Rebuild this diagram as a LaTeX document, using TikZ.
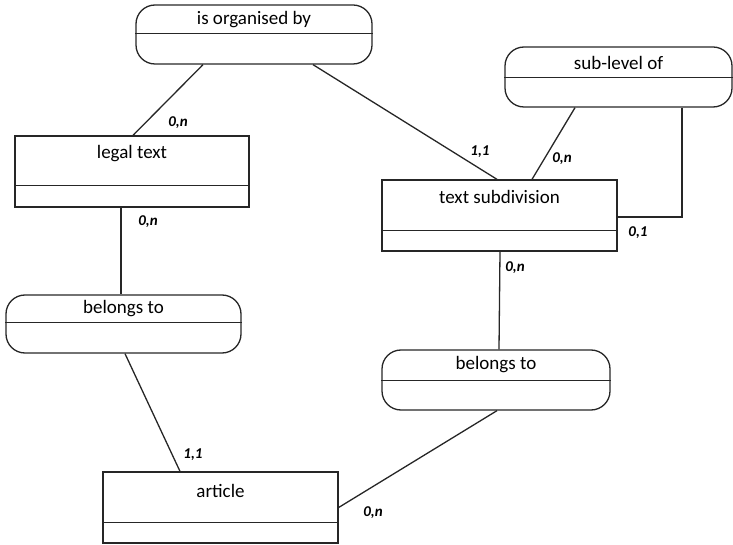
\documentclass[tikz,border=0pt]{standalone}
\usepackage{fontspec}
\setmainfont{Carlito}
\begin{document}
\begin{tikzpicture}[x=1pt,y=-1pt,
  line width=1.3pt,
  entity/.style={draw=black!85, rectangle, inner sep=0pt},
  relation/.style={draw=black!85, rectangle, rounded corners=19pt, inner sep=0pt},
  divider/.style={draw=black!85},
  title/.style={text=black, font=\fontsize{19}{21}\selectfont},
  card/.style={text=black, font=\fontsize{15}{17}\bfseries\itshape\selectfont, inner sep=0pt},
  link/.style={draw=black!85, line width=1.3pt}]
\useasboundingbox (0,0) rectangle (733,545);

% relationships (rounded boxes)
\node[relation, minimum width=236pt, minimum height=59pt] (org) at (254,34.5) {};
\node[relation, minimum width=227pt, minimum height=60pt] (sub) at (618.5,77) {};
\node[relation, minimum width=235pt, minimum height=58pt] (bel1) at (123.5,324) {};
\node[relation, minimum width=228pt, minimum height=60pt] (bel2) at (496,380) {};

% entities (plain boxes)
\node[entity, minimum width=234pt, minimum height=71pt] (legal) at (132,171.5) {};
\node[entity, minimum width=235pt, minimum height=71pt] (subdiv) at (499.5,215.5) {};
\node[entity, minimum width=235pt, minimum height=71pt] (art) at (220.5,507.5) {};

% compartment dividers
\draw[divider] ([yshift=-29.5pt]org.north west) -- ([yshift=-29.5pt]org.north east);
\draw[divider] ([yshift=-31pt]sub.north west) -- ([yshift=-31pt]sub.north east);
\draw[divider] ([yshift=-28pt]bel1.north west) -- ([yshift=-28pt]bel1.north east);
\draw[divider] ([yshift=-31pt]bel2.north west) -- ([yshift=-31pt]bel2.north east);
\draw[divider] ([yshift=-50pt]legal.north west) -- ([yshift=-50pt]legal.north east);
\draw[divider] ([yshift=-51pt]subdiv.north west) -- ([yshift=-51pt]subdiv.north east);
\draw[divider] ([yshift=-51pt]art.north west) -- ([yshift=-51pt]art.north east);

% names
\node[title] (torg) at ([yshift=-15pt]org.north) {is organised by};
\node[title] (tsub) at ([yshift=-17pt]sub.north) {sub-level of};
\node[title] (tbel1) at ([yshift=-14pt]bel1.north) {belongs to};
\node[title] (tbel2) at ([yshift=-15pt]bel2.north) {belongs to};
\node[title] (tlegal) at ([yshift=-18pt]legal.north) {legal text};
\node[title] (tsubdiv) at ([yshift=-18pt]subdiv.north) {text subdivision};
\node[title] (tart) at ([yshift=-20pt]art.north) {article};

% connectors
\draw[link] ([xshift=-51pt]org.south) -- ([xshift=1pt]legal.north);
\draw[link] ([xshift=59pt]org.south) -- ([xshift=-2.5pt]subdiv.north);
\draw[link] ([xshift=-43.5pt]sub.south) -- ([xshift=32.5pt]subdiv.north);
\draw[link] ([xshift=63.5pt]sub.south) |- ([yshift=-1.5pt]subdiv.east);
\draw[link] ([xshift=-11pt]legal.south) -- ([xshift=-2.5pt]bel1.north);
\draw[link] ([xshift=1.5pt]bel1.south) -- ([xshift=-40.5pt]art.north);
\draw[link] ([xshift=0.5pt]subdiv.south) -- ([xshift=3pt]bel2.north);
\draw[link] ([xshift=1pt]bel2.south) -- (art.east);

% cardinalities
\node[card] (c1) at (178,123) {0,n};
\node[card] (c2) at (480,152) {1,1};
\node[card] (c3) at (562,159) {0,n};
\node[card] (c4) at (638,233) {0,1};
\node[card] (c5) at (148,222) {0,n};
\node[card] (c6) at (193,455) {1,1};
\node[card] (c7) at (515,268) {0,n};
\node[card] (c8) at (373,513) {0,n};
\end{tikzpicture}
\end{document}
